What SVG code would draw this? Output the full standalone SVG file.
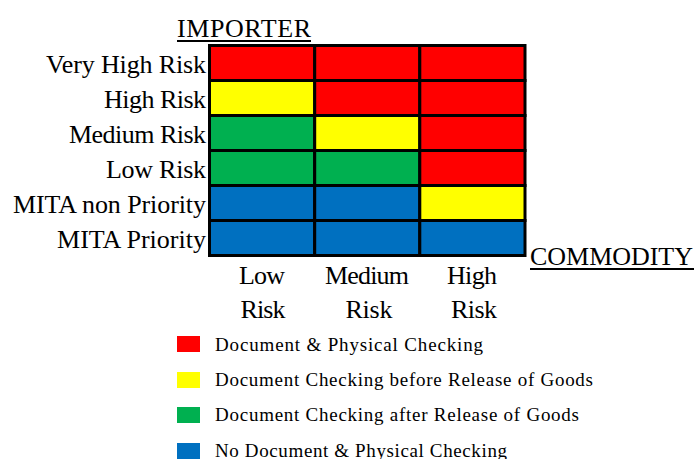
<svg xmlns="http://www.w3.org/2000/svg" width="695" height="459" viewBox="0 0 695 459">
<style>
text{font-family:"Liberation Serif","Times New Roman",serif;fill:#000}
.lab{font-size:26px}
.rl{text-anchor:end}
.cl{text-anchor:middle}
.lg{font-size:19px}
.r{fill:#FF0000}.y{fill:#FFFF00}.g{fill:#00B050}.b{fill:#0070C0}
.cell{stroke:#000;stroke-width:3}
</style>
<rect width="695" height="459" fill="#fff"/>
<g id="axis-importer">
<text class="lab" x="177" y="37" textLength="134">IMPORTER</text>
<line x1="177" y1="41" x2="311" y2="41" stroke="#000" stroke-width="2"/>
</g>
<g id="row-labels">
<text class="lab rl" x="206" y="73" textLength="160">Very High Risk</text>
<text class="lab rl" x="206" y="108" textLength="102">High Risk</text>
<text class="lab rl" x="206" y="143" textLength="137">Medium Risk</text>
<text class="lab rl" x="206" y="178" textLength="100">Low Risk</text>
<text class="lab rl" x="206" y="213" textLength="193">MITA non Priority</text>
<text class="lab rl" x="206" y="248" textLength="149">MITA Priority</text>
</g>
<g id="grid" class="cell">
<rect class="r" x="209.5" y="45.5" width="105.2" height="35"/>
<rect class="r" x="314.7" y="45.5" width="105.1" height="35"/>
<rect class="r" x="419.8" y="45.5" width="105.2" height="35"/>
<rect class="y" x="209.5" y="80.5" width="105.2" height="35"/>
<rect class="r" x="314.7" y="80.5" width="105.1" height="35"/>
<rect class="r" x="419.8" y="80.5" width="105.2" height="35"/>
<rect class="g" x="209.5" y="115.5" width="105.2" height="35"/>
<rect class="y" x="314.7" y="115.5" width="105.1" height="35"/>
<rect class="r" x="419.8" y="115.5" width="105.2" height="35"/>
<rect class="g" x="209.5" y="150.5" width="105.2" height="35"/>
<rect class="g" x="314.7" y="150.5" width="105.1" height="35"/>
<rect class="r" x="419.8" y="150.5" width="105.2" height="35"/>
<rect class="b" x="209.5" y="185.5" width="105.2" height="35"/>
<rect class="b" x="314.7" y="185.5" width="105.1" height="35"/>
<rect class="y" x="419.8" y="185.5" width="105.2" height="35"/>
<rect class="b" x="209.5" y="220.5" width="105.2" height="35"/>
<rect class="b" x="314.7" y="220.5" width="105.1" height="35"/>
<rect class="b" x="419.8" y="220.5" width="105.2" height="35"/>
</g>
<g id="axis-commodity">
<text class="lab" x="530" y="265" textLength="163">COMMODITY</text>
<line x1="530" y1="269" x2="694" y2="269" stroke="#000" stroke-width="2"/>
</g>
<g id="col-labels">
<text class="lab cl" x="262" y="284" textLength="46">Low</text>
<text class="lab cl" x="263" y="318" textLength="45">Risk</text>
<text class="lab cl" x="367" y="284" textLength="84">Medium</text>
<text class="lab cl" x="369" y="318" textLength="47">Risk</text>
<text class="lab cl" x="472" y="284" textLength="50">High</text>
<text class="lab cl" x="474" y="318" textLength="46">Risk</text>
</g>
<g id="legend">
<rect class="r" x="177" y="336" width="23" height="16"/>
<text class="lg" x="215" y="351" textLength="268">Document &amp; Physical Checking</text>
<rect class="y" x="177" y="372" width="23" height="16"/>
<text class="lg" x="215" y="386" textLength="378">Document Checking before Release of Goods</text>
<rect class="g" x="177" y="407" width="23" height="16"/>
<text class="lg" x="215" y="421" textLength="364">Document Checking after Release of Goods</text>
<rect class="b" x="177" y="443" width="23" height="16"/>
<text class="lg" x="215" y="457" textLength="292">No Document &amp; Physical Checking</text>
</g>
</svg>
